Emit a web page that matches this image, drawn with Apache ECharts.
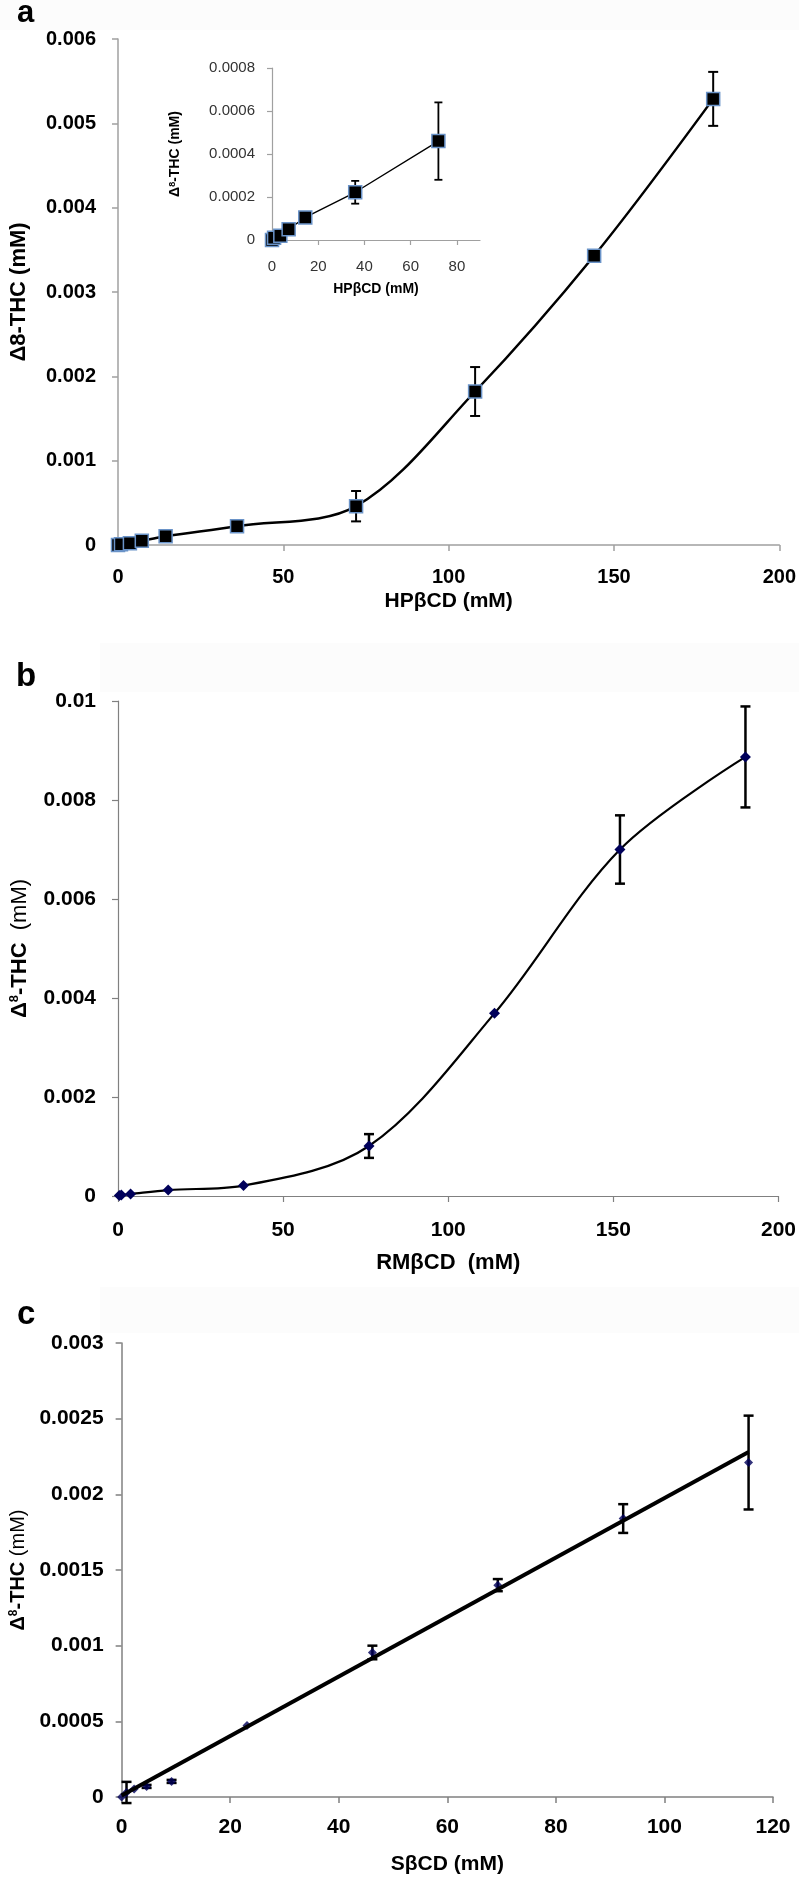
<!DOCTYPE html>
<html>
<head>
<meta charset="utf-8">
<script src="https://cdn.jsdelivr.net/npm/echarts@6/dist/echarts.min.js"></script>
<style>
html,body{margin:0;padding:0;background:#fff;}
#c{width:799px;height:1877px;}
</style>
</head>
<body>
<div id="c"></div>
<script>
// ---------- Data ----------
// Panel a: HPβCD
const hpX   = [0, 0.9, 3.6, 7.2, 14.4, 36, 72, 108, 144, 180];
const hpY   = [0, 0.00001, 0.00002, 0.00005, 0.000105, 0.000222, 0.00046, 0.00182, 0.00343, 0.00529];
const hpErr = [0, 0, 0, 0, 0, 0.000053, 0.00018, 0.00029, 0, 0.00032];
const insetCount = 7; // inset shows points up to 72 mM

// Panel b: RMβCD
const rmX   = [0.4, 1.0, 3.8, 15.2, 38, 76, 114, 152, 190];
const rmY   = [0.00001, 0.00002, 0.00004, 0.00012, 0.00021, 0.00101, 0.00369, 0.0070, 0.00887];
const rmErr = [0, 0, 0, 0, 0, 0.00024, 0, 0.00069, 0.00102];

// Panel c: SβCD
const sX   = [0, 0.9, 2.3, 4.6, 9.2, 23.1, 46.2, 69.3, 92.4, 115.5];
const sY   = [0, 0.00003, 0.000053, 0.00007, 0.000103, 0.000473, 0.000955, 0.0014, 0.00184, 0.00221];
const sErr = [0, 0.00007, 0, 0.00001, 0.00001, 0, 0.000045, 0.00004, 0.000095, 0.00031];
// linear trend line endpoints
const trendX = [0, 115.5];
const trendY = [0.00001, 0.00228];

// tick values
const insetXTicks = [0, 20, 40, 60, 80];

// ---------- helpers ----------
const pairs = (xs, ys) => xs.map((x, i) => [x, ys[i]]);
const errData = (xs, ys, es) => xs.map((x, i) => [x, ys[i] - es[i], ys[i] + es[i], es[i]]).filter(d => d[3] > 0);
function errRender(capHalf, lw) {
  return function (params, api) {
    const x = api.value(0), lo = api.value(1), hi = api.value(2);
    const p1 = api.coord([x, hi]), p2 = api.coord([x, lo]);
    const style = { stroke: '#000', lineWidth: lw };
    return {
      type: 'group', children: [
        { type: 'line', shape: { x1: p1[0], y1: p1[1], x2: p2[0], y2: p2[1] }, style },
        { type: 'line', shape: { x1: p1[0] - capHalf, y1: p1[1], x2: p1[0] + capHalf, y2: p1[1] }, style },
        { type: 'line', shape: { x1: p2[0] - capHalf, y1: p2[1], x2: p2[0] + capHalf, y2: p2[1] }, style }
      ]
    };
  };
}
const diamond = 'path://M5,0 L10,5 L5,10 L0,5 Z';
const FONT = '"Liberation Sans", Arial, sans-serif';
const boldLbl = (size) => ({ fontFamily: FONT, fontWeight: 'bold', fontSize: size, color: '#000' });

function axisCommon(color, w) {
  return {
    axisLine: { show: true, onZero: false, lineStyle: { color: color, width: w } },
    axisTick: { show: true, inside: false, length: 6, lineStyle: { color: color, width: w } },
    splitLine: { show: false }
  };
}

const chart = echarts.init(document.getElementById('c'), null, { renderer: 'canvas', width: 799, height: 1877 });

const option = {
  animation: false,
  backgroundColor: '#fff',
  graphic: [
    { type: 'rect', shape: { x: 0, y: 0, width: 799, height: 30 }, style: { fill: '#fcfcfc' }, z: -10 },
    { type: 'rect', shape: { x: 100, y: 643, width: 699, height: 49 }, style: { fill: '#fcfcfc' }, z: -10 },
    { type: 'rect', shape: { x: 100, y: 1287, width: 699, height: 46 }, style: { fill: '#fcfcfc' }, z: -10 },
    { type: 'text', left: 17, top: -2, style: { text: 'a', font: 'bold 31px "Liberation Sans", Arial, sans-serif', fill: '#000' } },
    { type: 'text', left: 16, top: 660, style: { text: 'b', font: 'bold 33px "Liberation Sans", Arial, sans-serif', fill: '#000' } },
    { type: 'text', left: 17, top: 1298, style: { text: 'c', font: 'bold 33px "Liberation Sans", Arial, sans-serif', fill: '#000' } }
  ],
  grid: [
    { left: 114, top: 39, width: 667, height: 506 },
    { left: 272, top: 68, width: 208, height: 172 },
    { left: 114, top: 701, width: 667, height: 495 },
    { left: 116, top: 1343, width: 657, height: 454 }
  ],
  xAxis: [
    Object.assign(axisCommon('#a0a0a0', 1.5), {
      gridIndex: 0, type: 'value', min: 0, max: 200, interval: 50,
      axisLabel: Object.assign(boldLbl(20), { margin: 22 }),
      name: 'HPβCD (mM)', nameLocation: 'middle', nameGap: 46,
      nameTextStyle: boldLbl(21)
    }),
    Object.assign(axisCommon('#a0a0a0', 1.2), {
      gridIndex: 1, type: 'value', min: 0, max: 90, interval: 20,
      axisTick: { show: true, length: 5, customValues: insetXTicks, lineStyle: { color: '#a0a0a0', width: 1.2 } },
      axisLabel: { customValues: insetXTicks, fontFamily: FONT, fontSize: 15, color: '#333', margin: 19 },
      name: 'HPβCD (mM)', nameLocation: 'middle', nameGap: 42,
      nameTextStyle: boldLbl(14)
    }),
    Object.assign(axisCommon('#808080', 1.2), {
      gridIndex: 2, type: 'value', min: 0, max: 200, interval: 50,
      axisLabel: Object.assign(boldLbl(21), { margin: 24 }),
      name: 'RMβCD  (mM)', nameLocation: 'middle', nameGap: 56,
      nameTextStyle: boldLbl(22)
    }),
    Object.assign(axisCommon('#808080', 1.5), {
      gridIndex: 3, type: 'value', min: 0, max: 120, interval: 20,
      axisLabel: Object.assign(boldLbl(21), { margin: 20 }),
      name: 'SβCD (mM)', nameLocation: 'middle', nameGap: 57,
      nameTextStyle: boldLbl(21)
    })
  ],
  yAxis: [
    Object.assign(axisCommon('#a0a0a0', 1.5), {
      gridIndex: 0, type: 'value', min: 0, max: 0.006, interval: 0.001,
      axisLabel: Object.assign(boldLbl(20), { margin: 22 }),
      name: 'Δ8-THC (mM)', nameLocation: 'middle', nameGap: 88,
      nameTextStyle: boldLbl(22)
    }),
    Object.assign(axisCommon('#a0a0a0', 1.2), {
      gridIndex: 1, type: 'value', min: 0, max: 0.0008, interval: 0.0002,
      axisTick: { show: true, length: 5, lineStyle: { color: '#a0a0a0', width: 1.2 } },
      axisLabel: { fontFamily: FONT, fontSize: 15, color: '#333', margin: 17 },
      name: '{b|Δ}{s|8}{b|-THC (mM)}', nameLocation: 'middle', nameGap: 89,
      nameTextStyle: { rich: { b: boldLbl(14), s: Object.assign(boldLbl(9), { verticalAlign: 'top', padding: [0, 0, 6, 0] }) } }
    }),
    Object.assign(axisCommon('#808080', 1.2), {
      gridIndex: 2, type: 'value', min: 0, max: 0.01, interval: 0.002,
      axisLabel: Object.assign(boldLbl(21), { margin: 22 }),
      name: '{b|Δ}{s|8}{b|-THC  }{n|(mM)}', nameLocation: 'middle', nameGap: 87,
      nameTextStyle: { rich: { b: boldLbl(22), s: Object.assign(boldLbl(13), { padding: [0, 0, 10, 0] }), n: { fontFamily: FONT, fontSize: 22, color: '#000' } } }
    }),
    Object.assign(axisCommon('#808080', 1.5), {
      gridIndex: 3, type: 'value', min: 0, max: 0.003, interval: 0.0005,
      axisLabel: Object.assign(boldLbl(21), { margin: 18 }),
      name: '{b|Δ}{s|8}{b|-THC }{n|(mM)}', nameLocation: 'middle', nameGap: 92,
      nameTextStyle: { rich: { b: boldLbl(20), s: Object.assign(boldLbl(12), { padding: [0, 0, 9, 0] }), n: { fontFamily: FONT, fontSize: 20, color: '#000' } } }
    })
  ],
  series: [
    // ---- panel a main ----
    { type: 'custom', xAxisIndex: 0, yAxisIndex: 0, renderItem: errRender(5, 2), data: errData(hpX, hpY, hpErr), encode: { x: 0, y: [1, 2] }, z: 2 },
    { type: 'line', xAxisIndex: 0, yAxisIndex: 0, data: pairs(hpX, hpY), smooth: 0.33,
      lineStyle: { color: '#000', width: 2.5 }, symbol: 'rect', symbolSize: 13, showSymbol: true,
      itemStyle: { color: '#000', borderColor: '#6a93c8', borderWidth: 1.5 }, z: 3 },
    // ---- inset ----
    { type: 'custom', xAxisIndex: 1, yAxisIndex: 1, renderItem: errRender(4, 1.8),
      data: errData(hpX.slice(0, insetCount), hpY.slice(0, insetCount), hpErr.slice(0, insetCount)), encode: { x: 0, y: [1, 2] }, z: 4 },
    { type: 'line', xAxisIndex: 1, yAxisIndex: 1, data: pairs(hpX.slice(0, insetCount), hpY.slice(0, insetCount)),
      lineStyle: { color: '#000', width: 1.4 }, symbol: 'rect', symbolSize: 13,
      itemStyle: { color: '#000', borderColor: '#6a93c8', borderWidth: 1.5 }, z: 5 },
    // ---- panel b ----
    { type: 'custom', xAxisIndex: 2, yAxisIndex: 2, renderItem: errRender(5, 2.5), data: errData(rmX, rmY, rmErr), encode: { x: 0, y: [1, 2] }, z: 2 },
    { type: 'line', xAxisIndex: 2, yAxisIndex: 2, data: pairs(rmX, rmY), smooth: 0.33,
      lineStyle: { color: '#000', width: 2.2 }, symbol: diamond, symbolSize: 11,
      itemStyle: { color: '#00005a' }, z: 3 },
    // ---- panel c ----
    { type: 'custom', xAxisIndex: 3, yAxisIndex: 3, renderItem: errRender(5, 2.5), data: errData(sX, sY, sErr), encode: { x: 0, y: [1, 2] }, z: 2 },
    { type: 'scatter', xAxisIndex: 3, yAxisIndex: 3, data: pairs(sX, sY), symbol: diamond, symbolSize: 9,
      itemStyle: { color: '#00005a' }, z: 3 },
    { type: 'line', xAxisIndex: 3, yAxisIndex: 3, data: pairs(trendX, trendY), showSymbol: false, symbol: 'none',
      lineStyle: { color: '#000', width: 4 }, z: 4 }
  ]
};
chart.setOption(option);
</script>
</body>
</html>
